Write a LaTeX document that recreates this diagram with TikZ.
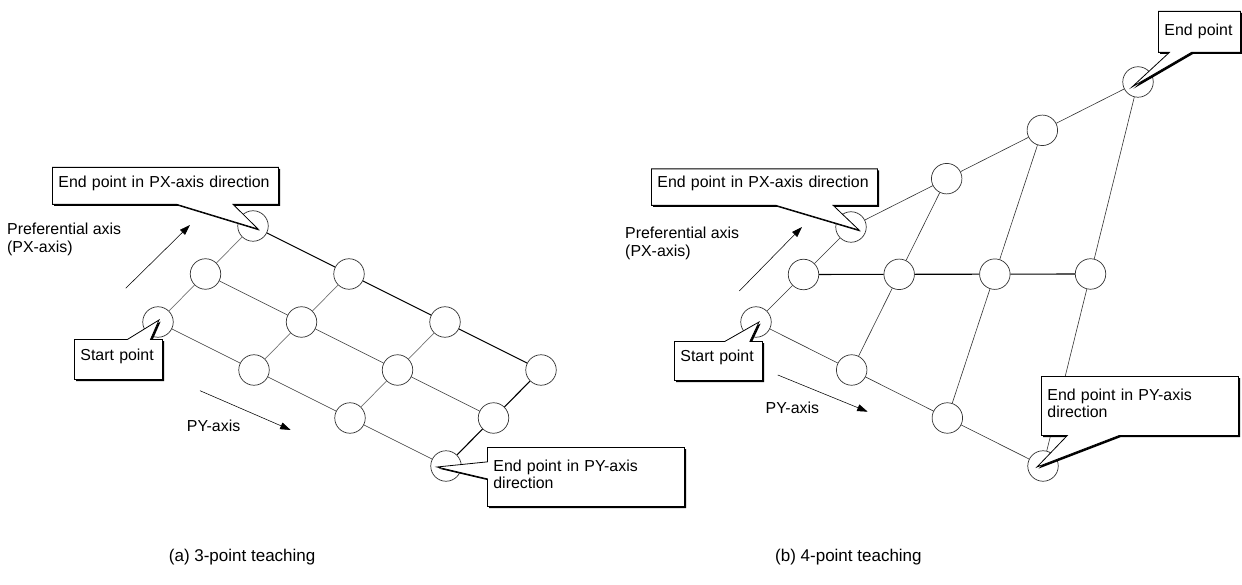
\documentclass[tikz,border=0pt]{standalone}
\usepackage{fontspec}
\setmainfont{Liberation Sans}
\usetikzlibrary{positioning,arrows.meta,shapes.callouts,shadows,calc}
\newcommand{\notefont}{\fontsize{15.9}{17.3}\selectfont}
\newcommand{\capsize}{\fontsize{17}{20}\selectfont}
\tikzset{
  pt/.style        = {circle, draw=black!80, fill=white, line width=0.7pt,
                      minimum size=30.5pt, inner sep=0pt},
  pxline/.style    = {draw=black!55, line width=0.7pt},
  pyline/.style    = {draw=black!80, line width=0.6pt},
  edge/.style      = {draw=black, line width=1.1pt},
  note/.style      = {rectangle callout, draw, fill=white, line width=0.8pt, align=left,
                      inner xsep=6pt, inner ysep=0pt, anchor=north west, font=\notefont,
                      drop shadow={shadow xshift=1.6pt, shadow yshift=-1.6pt,
                                   fill=black, opacity=1}},
  axisarrow/.style = {-{Triangle[length=10.5pt,width=7pt]}, line width=0.55pt},
  lbl/.style       = {inner sep=0pt, align=left, anchor=base west, font=\notefont},
}

\begin{document}
\begin{tikzpicture}[x=1pt,y=-1pt]
  \useasboundingbox (0,0) rectangle (1242,585);

  % (a) 3-point teaching
  \foreach \i in {0,1,2}
    \foreach \j in {0,...,3}
      \node[pt] (a\i\j) at ({158+47.5*\i+96*\j},{322-48*\i+48*\j}) {};
  \foreach \j in {0,1,2}
    \draw[pxline] (a0\j) -- (a1\j) -- (a2\j);
  \draw[edge] (a03) -- (a13) -- (a23);
  \foreach \i in {0,1}
    \draw[pyline] (a\i0) -- (a\i1) -- (a\i2) -- (a\i3);
  \draw[edge] (a20) -- (a21) -- (a22) -- (a23);

  \node[lbl] (prefA) at (7,252.3) {Preferential axis\\(PX-axis)};
  \coordinate (pxA0) at (125.7,288.3);
  \coordinate (pxA1) at (190,225);
  \draw[axisarrow] (pxA0) -- (pxA1);
  \node[lbl] (pyA) at (186.7,431.7) {PY-axis};
  \coordinate (pyA0) at (200,390.7);
  \coordinate (pyA1) at (290.7,430);
  \draw[axisarrow] (pyA0) -- (pyA1);

  \node[note, text width=214pt, text height=20pt, text depth=17pt,
        callout pointer width=56pt, callout absolute pointer={($(a20)+(5,3)$)}]
        (pxendA) at (52,167) {End point in PX-axis direction};
  \node[note, text width=76pt, text height=21pt, text depth=19pt,
        callout pointer width=23pt, callout absolute pointer={($(a00)+(1,-2)$)}]
        (startA) at (74,339) {Start point};
  \node[note, text width=185pt, text height=24pt, text depth=35pt,
        callout pointer width=17pt, callout absolute pointer={($(a03)+(-9,1)$)}]
        (pyendA) at (487,447) {End point in PY-axis\\direction};

  % (b) 4-point teaching
  \foreach \i in {0,1,2}
    \foreach \j in {0,...,3}
      \node[pt] (b\i\j) at ({756+47.5*\i+95.67*\j},{322-47.5*\i+48*\j-48.17*\i*\j}) {};
  \foreach \j in {0,...,3}
    \draw[pyline] (b0\j) -- (b1\j) -- (b2\j);
  \draw[pyline] (b00) -- (b01) -- (b02) -- (b03);
  \draw[edge] (b10) -- (b11) -- (b12) -- (b13);
  \draw[pyline] (b20) -- (b21) -- (b22) -- (b23);

  \node[lbl] (prefB) at (625,256.3) {Preferential axis\\(PX-axis)};
  \coordinate (pxB0) at (739.3,291);
  \coordinate (pxB1) at (802,227);
  \draw[axisarrow] (pxB0) -- (pxB1);
  \node[lbl] (pyB) at (765.5,413.3) {PY-axis};
  \coordinate (pyB0) at (777.8,375);
  \coordinate (pyB1) at (867.7,411.7);
  \draw[axisarrow] (pyB0) -- (pyB1);

  \node[note, text width=214pt, text height=19pt, text depth=17.5pt,
        callout pointer width=57pt, callout absolute pointer={($(b20)+(8,3)$)}]
        (pxendB) at (651,168.5) {End point in PX-axis direction};
  \node[note, text width=76pt, text height=20pt, text depth=19pt,
        callout pointer width=25pt, callout absolute pointer={($(b00)+(3,0)$)}]
        (startB) at (674,341) {Start point};
  \node[note, text width=185pt, text height=24pt, text depth=35pt,
        callout pointer width=52pt, callout absolute pointer={($(b03)+(-6,1)$)}]
        (pyendB) at (1041,376) {End point in PY-axis\\direction};
  \node[note, text width=70pt, text height=24pt, text depth=17pt,
        callout pointer width=22pt, callout absolute pointer={($(b23)+(-6,5)$)}]
        (endB) at (1158,11) {End point};

  % captions
  \node[lbl, font=\capsize] (capA) at (168.7,561) {(a) 3-point teaching};
  \node[lbl, font=\capsize] (capB) at (775,561) {(b) 4-point teaching};
\end{tikzpicture}
\end{document}
